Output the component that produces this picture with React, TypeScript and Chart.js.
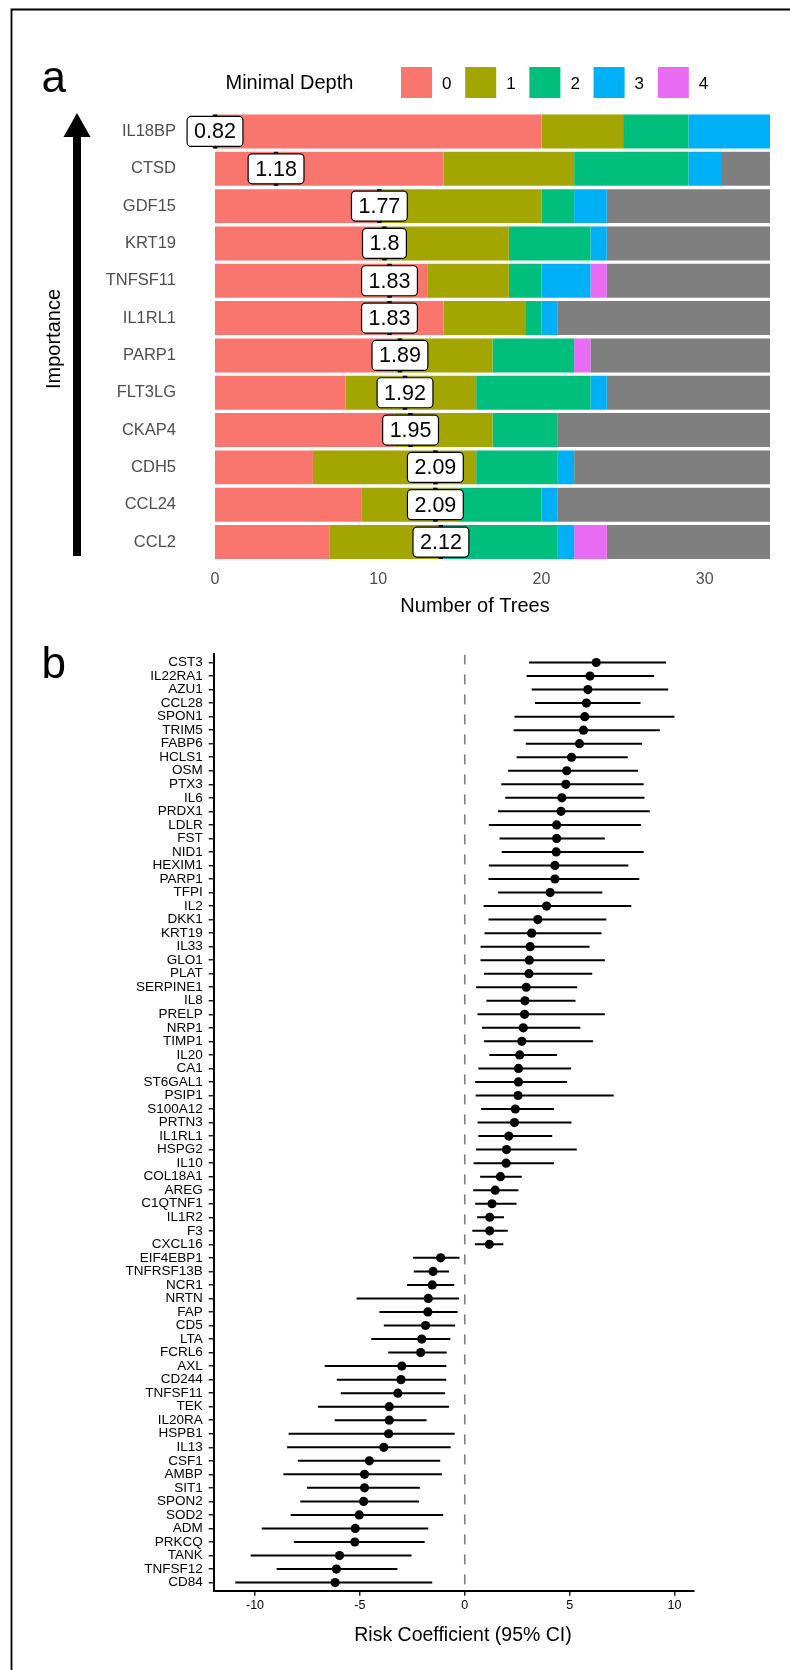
import React, { useEffect, useRef } from 'react';
import { Chart, registerables } from 'chart.js';

Chart.register(...registerables);

const FONT = '"Liberation Sans", Arial, Helvetica, sans-serif';

// ---------- Panel a data ----------
const genes = ['IL18BP', 'CTSD', 'GDF15', 'KRT19', 'TNFSF11', 'IL1RL1', 'PARP1', 'FLT3LG', 'CKAP4', 'CDH5', 'CCL24', 'CCL2'];
const depth0 = [20, 14, 10, 10, 13, 14, 11, 8, 11, 6, 9, 7];
const depth1 = [5, 8, 10, 8, 5, 5, 6, 8, 6, 10, 6, 7];
const depth2 = [4, 7, 2, 5, 2, 1, 5, 7, 4, 5, 5, 7];
const depth3 = [5, 2, 2, 1, 3, 1, 0, 1, 0, 1, 1, 1];
const depth4 = [0, 0, 0, 0, 1, 0, 1, 0, 0, 0, 0, 2];
const depthNA = [0, 3, 10, 10, 10, 13, 11, 10, 13, 12, 13, 10];
const meanDepthText = ['0.82', '1.18', '1.77', '1.8', '1.83', '1.83', '1.89', '1.92', '1.95', '2.09', '2.09', '2.12'];
const meanDepthPos = [0, 3.74, 10.07, 10.38, 10.69, 10.69, 11.33, 11.64, 11.98, 13.5, 13.5, 13.84];
const depthLegend = ['0', '1', '2', '3', '4'];
const depthColors = ['#F8766D', '#A3A500', '#00BF7D', '#00B0F6', '#E76BF3'];
const naColor = '#7F7F7F';
const treesMax = 34;

// ---------- Panel b data ----------
const proteins = ['CST3', 'IL22RA1', 'AZU1', 'CCL28', 'SPON1', 'TRIM5', 'FABP6', 'HCLS1', 'OSM', 'PTX3', 'IL6', 'PRDX1', 'LDLR', 'FST', 'NID1', 'HEXIM1', 'PARP1', 'TFPI', 'IL2', 'DKK1', 'KRT19', 'IL33', 'GLO1', 'PLAT', 'SERPINE1', 'IL8', 'PRELP', 'NRP1', 'TIMP1', 'IL20', 'CA1', 'ST6GAL1', 'PSIP1', 'S100A12', 'PRTN3', 'IL1RL1', 'HSPG2', 'IL10', 'COL18A1', 'AREG', 'C1QTNF1', 'IL1R2', 'F3', 'CXCL16', 'EIF4EBP1', 'TNFRSF13B', 'NCR1', 'NRTN', 'FAP', 'CD5', 'LTA', 'FCRL6', 'AXL', 'CD244', 'TNFSF11', 'TEK', 'IL20RA', 'HSPB1', 'IL13', 'CSF1', 'AMBP', 'SIT1', 'SPON2', 'SOD2', 'ADM', 'PRKCQ', 'TANK', 'TNFSF12', 'CD84'];
const coef = [6.27, 5.97, 5.87, 5.8, 5.72, 5.66, 5.47, 5.09, 4.86, 4.82, 4.63, 4.59, 4.38, 4.38, 4.36, 4.3, 4.3, 4.07, 3.9, 3.48, 3.19, 3.12, 3.08, 3.06, 2.93, 2.87, 2.85, 2.79, 2.72, 2.62, 2.56, 2.56, 2.54, 2.41, 2.37, 2.1, 1.99, 1.97, 1.7, 1.45, 1.3, 1.19, 1.19, 1.17, -1.15, -1.51, -1.55, -1.74, -1.76, -1.87, -2.05, -2.1, -3.0, -3.04, -3.19, -3.6, -3.6, -3.63, -3.86, -4.55, -4.78, -4.78, -4.82, -5.03, -5.22, -5.24, -5.97, -6.12, -6.18];
const ciLow = [3.06, 2.95, 3.19, 3.35, 2.37, 2.33, 2.91, 2.47, 2.07, 1.74, 1.93, 1.59, 1.15, 1.66, 1.76, 1.15, 1.13, 1.59, 0.9, 1.13, 0.94, 0.75, 0.75, 0.92, 0.54, 1.03, 0.61, 0.82, 0.92, 1.17, 0.65, 0.5, 0.52, 0.78, 0.61, 0.65, 0.54, 0.42, 0.73, 0.4, 0.5, 0.59, 0.36, 0.48, -2.47, -2.43, -2.75, -5.16, -4.07, -3.86, -4.46, -3.65, -6.68, -6.1, -5.91, -7.0, -6.2, -8.4, -8.47, -7.96, -8.65, -7.52, -7.84, -8.3, -9.68, -8.15, -10.21, -8.97, -10.94];
const ciHigh = [9.6, 9.03, 9.7, 8.38, 10.0, 9.3, 8.45, 7.77, 8.26, 8.53, 8.57, 8.82, 8.4, 6.68, 8.53, 7.8, 8.32, 6.56, 7.94, 6.75, 6.52, 5.95, 6.68, 6.08, 5.36, 5.28, 6.68, 5.51, 6.12, 4.4, 5.07, 4.88, 7.1, 4.25, 5.09, 4.17, 5.34, 4.25, 2.72, 2.56, 2.47, 1.87, 2.05, 1.84, -0.25, -0.75, -0.5, -0.27, -0.34, -0.46, -0.69, -0.86, -0.88, -0.88, -0.94, -0.75, -1.82, -0.48, -0.67, -1.17, -1.09, -2.14, -2.18, -1.03, -1.74, -1.91, -2.54, -3.21, -1.55];
const riskMin = -11.97;
const riskMax = 10.93;

function roundRectPath(ctx: CanvasRenderingContext2D, x: number, y: number, w: number, h: number, r: number) {
  ctx.beginPath();
  ctx.moveTo(x + r, y);
  ctx.lineTo(x + w - r, y);
  ctx.arcTo(x + w, y, x + w, y + r, r);
  ctx.lineTo(x + w, y + h - r);
  ctx.arcTo(x + w, y + h, x + w - r, y + h, r);
  ctx.lineTo(x + r, y + h);
  ctx.arcTo(x, y + h, x, y + h - r, r);
  ctx.lineTo(x, y + r);
  ctx.arcTo(x, y, x + r, y, r);
  ctx.closePath();
}

const panelAPlugin = {
  id: 'panelADecor',
  afterDatasetsDraw(chart: any) {
    const { ctx } = chart;
    const xs = chart.scales.x;
    const ys = chart.scales.y;
    const band = Math.abs(ys.getPixelForValue(1) - ys.getPixelForValue(0));
    const barH = band * 0.91;
    ctx.save();
    genes.forEach((_g, i) => {
      const px = xs.getPixelForValue(meanDepthPos[i]);
      const py = ys.getPixelForValue(i);
      ctx.fillStyle = '#000';
      ctx.fillRect(px - 2.25, py - barH / 2, 4.5, barH);
      ctx.font = `21.5px ${FONT}`;
      const tw = ctx.measureText(meanDepthText[i]).width;
      const bw = tw + 14;
      const bh = 30;
      roundRectPath(ctx, px - bw / 2, py - bh / 2, bw, bh, 4);
      ctx.fillStyle = '#fff';
      ctx.fill();
      ctx.lineWidth = 1.2;
      ctx.strokeStyle = '#000';
      ctx.stroke();
      ctx.fillStyle = '#000';
      ctx.textAlign = 'center';
      ctx.textBaseline = 'middle';
      ctx.fillText(meanDepthText[i], px, py + 1);
    });
    ctx.restore();
  },
  afterDraw(chart: any) {
    const { ctx, width, height } = chart;
    ctx.save();
    // frame
    ctx.strokeStyle = '#000';
    ctx.lineWidth = 1.8;
    ctx.beginPath();
    ctx.moveTo(width, 9.5);
    ctx.lineTo(11.5, 9.5);
    ctx.lineTo(11.5, height);
    ctx.stroke();
    // tag
    ctx.fillStyle = '#000';
    ctx.textAlign = 'left';
    ctx.textBaseline = 'alphabetic';
    ctx.font = `44px ${FONT}`;
    ctx.fillText('a', 41.5, 92);
    // arrow
    ctx.fillRect(73, 134, 8, 556 - 134);
    ctx.beginPath();
    ctx.moveTo(77, 113);
    ctx.lineTo(90.5, 137);
    ctx.lineTo(63.5, 137);
    ctx.closePath();
    ctx.fill();
    // Importance
    ctx.save();
    ctx.translate(59.5, 339);
    ctx.rotate(-Math.PI / 2);
    ctx.textAlign = 'center';
    ctx.font = `20px ${FONT}`;
    ctx.fillText('Importance', 0, 0);
    ctx.restore();
    // legend
    ctx.font = `20px ${FONT}`;
    ctx.textAlign = 'left';
    ctx.fillText('Minimal Depth', 225.5, 88.5);
    depthLegend.forEach((lab, k) => {
      const kx = 401 + k * 64.2;
      ctx.fillStyle = depthColors[k];
      ctx.fillRect(kx, 67, 31, 31);
      ctx.fillStyle = '#000';
      ctx.font = `17px ${FONT}`;
      ctx.fillText(lab, kx + 31 + 10, 89.3);
    });
    // axis title
    ctx.font = `20px ${FONT}`;
    ctx.textAlign = 'center';
    ctx.fillText('Number of Trees', 475, 612);
    ctx.restore();
  },
};

const panelBPlugin = {
  id: 'panelBDecor',
  afterDraw(chart: any) {
    const { ctx, height } = chart;
    ctx.save();
    ctx.strokeStyle = '#000';
    ctx.lineWidth = 1.8;
    ctx.beginPath();
    ctx.moveTo(11.5, 0);
    ctx.lineTo(11.5, height);
    ctx.stroke();
    ctx.fillStyle = '#000';
    ctx.textBaseline = 'alphabetic';
    ctx.textAlign = 'left';
    ctx.font = `44px ${FONT}`;
    ctx.fillText('b', 41.5, 38);
    ctx.font = `19.5px ${FONT}`;
    ctx.textAlign = 'center';
    ctx.fillText('Risk Coefficient (95% CI)', 463, 1000.5);
    ctx.restore();
  },
};

export default function App() {
  const aRef = useRef<HTMLCanvasElement | null>(null);
  const bRef = useRef<HTMLCanvasElement | null>(null);

  useEffect(() => {
    if (!aRef.current || !bRef.current) return;
    const seriesA = [depth0, depth1, depth2, depth3, depth4];
    const chartA = new Chart(aRef.current, {
      type: 'bar',
      data: {
        labels: genes,
        datasets: [
          ...seriesA.map((d, k) => ({
            label: depthLegend[k],
            data: d,
            backgroundColor: depthColors[k],
            borderWidth: 0,
            categoryPercentage: 1,
            barPercentage: 0.91,
          })),
          {
            label: 'NA',
            data: depthNA,
            backgroundColor: naColor,
            borderWidth: 0,
            categoryPercentage: 1,
            barPercentage: 0.91,
          },
        ],
      },
      options: {
        indexAxis: 'y',
        animation: false,
        responsive: false,
        events: [],
        layout: { padding: { top: 112.8, left: 0, right: 20, bottom: 0 } },
        plugins: { legend: { display: false }, tooltip: { enabled: false } },
        scales: {
          x: {
            stacked: true,
            min: 0,
            max: treesMax,
            ticks: { stepSize: 10, includeBounds: false, color: '#4D4D4D', font: { size: 16, family: FONT }, padding: 9 },
            grid: { display: false, drawTicks: false },
            border: { display: false },
            afterFit: (s: any) => { s.height = 79.3; },
          },
          y: {
            stacked: true,
            ticks: { color: '#4D4D4D', font: { size: 16.5, family: FONT }, padding: 39 },
            grid: { display: false, drawTicks: false },
            border: { display: false },
            afterFit: (s: any) => { s.width = 215; },
          },
        },
      } as any,
      plugins: [panelAPlugin],
    });

    const points = proteins.map((_p, i) => ({ x: coef[i], y: i }));
    const segs: any[] = [];
    proteins.forEach((_p, i) => {
      segs.push({ x: ciLow[i], y: i });
      segs.push({ x: ciHigh[i], y: i });
      segs.push({ x: null, y: null });
    });
    const tickGrid = { drawOnChartArea: false, drawTicks: true, tickLength: 5, color: '#222', lineWidth: 1.5 };
    const chartB = new Chart(bRef.current, {
      type: 'scatter',
      data: {
        datasets: [
          { label: 'coef', data: points, backgroundColor: '#000', borderWidth: 0, pointRadius: 4.6 },
          { label: 'ci', data: segs, showLine: true, spanGaps: false, borderColor: '#000', borderWidth: 2, pointRadius: 0 },
          { label: 'zero', data: [{ x: 0, y: -0.6 }, { x: 0, y: proteins.length - 0.4 }], showLine: true, borderColor: '#7F7F7F', borderWidth: 1.6, borderDash: [10, 10], pointRadius: 0 },
        ],
      },
      options: {
        animation: false,
        responsive: false,
        events: [],
        layout: { padding: { top: 14.4, left: 0, right: 96, bottom: 0 } },
        plugins: { legend: { display: false }, tooltip: { enabled: false } },
        scales: {
          x: {
            type: 'linear',
            min: riskMin,
            max: riskMax,
            ticks: { stepSize: 5, includeBounds: false, color: '#000', font: { size: 12.5, family: FONT }, padding: 2 },
            grid: tickGrid,
            border: { display: true, color: '#000', width: 2 },
            afterFit: (s: any) => { s.height = 79.3; },
          },
          y: {
            type: 'linear',
            reverse: true,
            min: -0.6,
            max: proteins.length - 0.4,
            afterBuildTicks: (s: any) => { s.ticks = proteins.map((_p, i) => ({ value: i })); },
            ticks: {
              autoSkip: false,
              color: '#000',
              font: { size: 13.5, family: FONT, lineHeight: 1 },
              padding: 6,
              callback: (v: any) => proteins[Math.round(Number(v))] ?? '',
            },
            grid: tickGrid,
            border: { display: true, color: '#000', width: 2 },
            afterFit: (s: any) => { s.width = 213.7; },
          },
        },
      } as any,
      plugins: [panelBPlugin],
    });

    return () => {
      chartA.destroy();
      chartB.destroy();
    };
  }, []);

  return (
    <div style={{ position: 'absolute', left: 0, top: 0, width: 790, height: 1670, background: '#fff', overflow: 'hidden' }}>
      <canvas ref={aRef} width={790} height={640} style={{ position: 'absolute', left: 0, top: 0, width: 790, height: 640 }} />
      <canvas ref={bRef} width={790} height={1030} style={{ position: 'absolute', left: 0, top: 640, width: 790, height: 1030 }} />
    </div>
  );
}
